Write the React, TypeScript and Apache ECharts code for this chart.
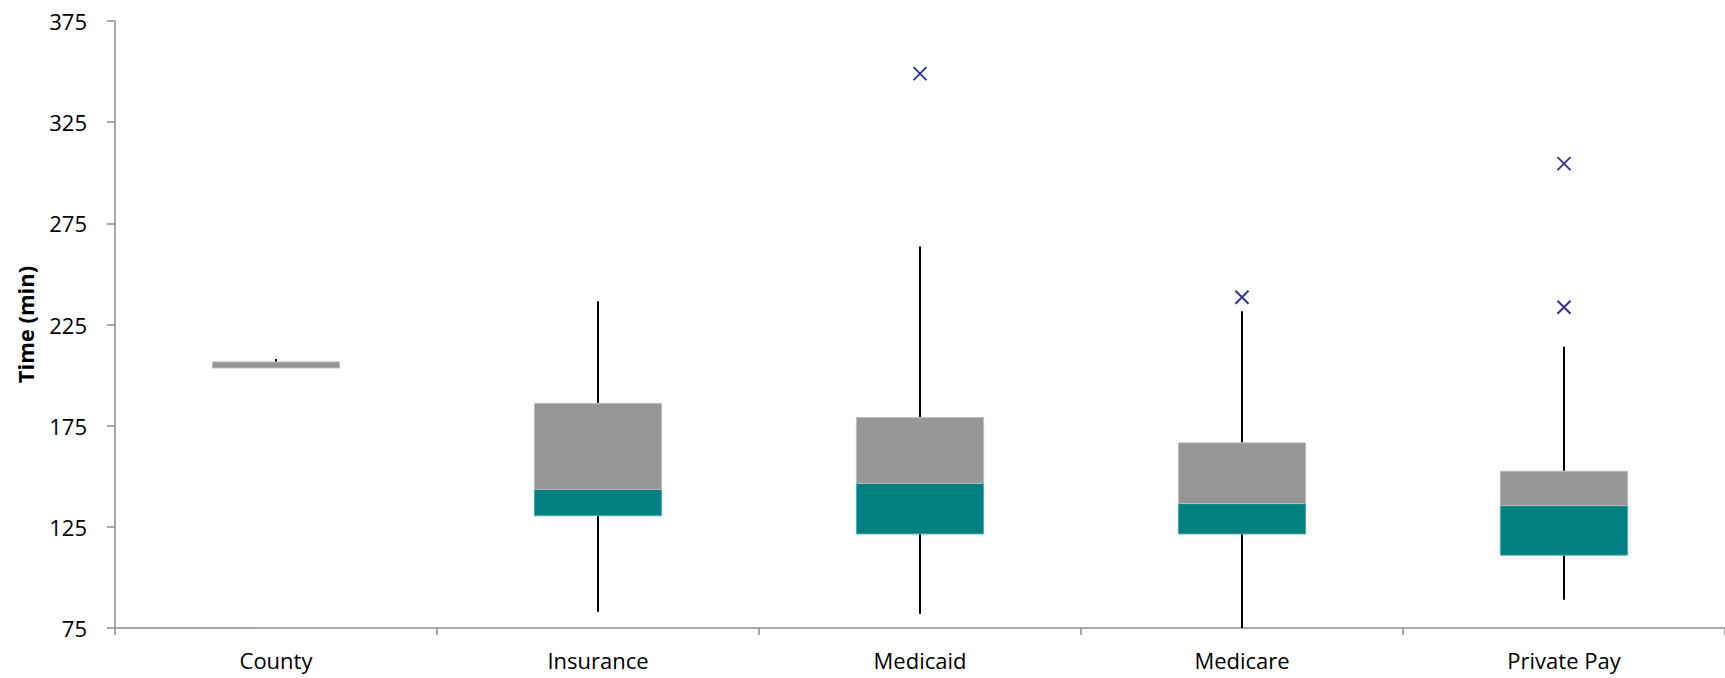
import React, { useEffect, useRef } from "react";
import * as echarts from "echarts";

// Waiting-time distribution per payer (minutes)
const categories = ["County", "Insurance", "Medicaid", "Medicare", "Private Pay"];
const minValues = [203.5, 83, 82, 75, 89];
const q1Values = [203.5, 130.5, 121.5, 121.5, 111];
const medianValues = [203.5, 143.5, 146.5, 136.5, 135.5];
const q3Values = [206.5, 186, 179, 166.5, 152.5];
const maxValues = [208, 236.5, 263.5, 231.5, 214];

const outlierCategories = ["Medicaid", "Medicare", "Private Pay", "Private Pay"];
const outlierValues = [349, 238.5, 304.5, 233.5];

const yTickLabels = [75, 125, 175, 225, 275, 325, 375];

const FONT = "'Open Sans', 'Noto Sans', sans-serif";
const AXIS_COLOR = "#8c8c8c";

export default function App() {
  const ref = useRef<HTMLDivElement>(null);

  useEffect(() => {
    if (!ref.current) return;
    const chart = echarts.init(ref.current, undefined, { renderer: "svg" });

    const boxData = categories.map((_, i) => [
      i,
      minValues[i],
      q1Values[i],
      medianValues[i],
      q3Values[i],
      maxValues[i],
    ]);

    const outlierData = outlierCategories.map((c, i) => [c, outlierValues[i]]);

    chart.setOption({
      animation: false,
      backgroundColor: "#ffffff",
      grid: { left: 115, top: 21, bottom: 50, width: 1613, containLabel: false },
      xAxis: {
        type: "category",
        data: categories,
        boundaryGap: true,
        axisLine: { show: true, lineStyle: { color: AXIS_COLOR, width: 1.5 } },
        axisTick: { show: true, length: 7, lineStyle: { color: AXIS_COLOR, width: 1.5 } },
        axisLabel: { color: "#000", fontFamily: FONT, fontSize: 22, margin: 21 },
        splitLine: { show: false },
      },
      yAxis: {
        type: "value",
        min: 75,
        max: 375,
        name: "Time (min)",
        nameLocation: "middle",
        nameRotate: 90,
        nameGap: 79,
        nameTextStyle: { color: "#000", fontFamily: FONT, fontSize: 22, fontWeight: "bold" },
        axisLine: { show: true, lineStyle: { color: AXIS_COLOR, width: 1.5 } },
        axisTick: {
          show: true,
          length: 8,
          customValues: yTickLabels,
          lineStyle: { color: AXIS_COLOR, width: 1.5 },
        },
        axisLabel: {
          color: "#000",
          fontFamily: FONT,
          fontSize: 22,
          margin: 28,
          customValues: yTickLabels,
        },
        splitLine: { show: false },
      },
      series: [
        {
          type: "custom",
          name: "Box",
          data: boxData,
          encode: { x: 0, y: [1, 2, 3, 4, 5] },
          renderItem: (params: any, api: any) => {
            const idx = api.value(0);
            const pMin = api.coord([idx, api.value(1)]);
            const pQ1 = api.coord([idx, api.value(2)]);
            const pMed = api.coord([idx, api.value(3)]);
            const pQ3 = api.coord([idx, api.value(4)]);
            const pMax = api.coord([idx, api.value(5)]);
            const cx = pMed[0];
            const w = api.size([1, 0])[0] * 0.395;
            const whisker = { stroke: "#000000", lineWidth: 2 };
            const children: any[] = [];
            if (pMin[1] - pQ1[1] > 0.5) {
              children.push({
                type: "line",
                shape: { x1: cx, y1: pQ1[1], x2: cx, y2: pMin[1] },
                style: whisker,
              });
            }
            if (pQ3[1] - pMax[1] > 0.5) {
              children.push({
                type: "line",
                shape: { x1: cx, y1: pMax[1], x2: cx, y2: pQ3[1] },
                style: whisker,
              });
            }
            if (pQ1[1] - pMed[1] > 0.5) {
              children.push({
                type: "rect",
                shape: { x: cx - w / 2, y: pMed[1], width: w, height: pQ1[1] - pMed[1] },
                style: { fill: "#008080", stroke: "#4fa9a9", lineWidth: 1 },
              });
            }
            if (pMed[1] - pQ3[1] > 0.5) {
              children.push({
                type: "rect",
                shape: { x: cx - w / 2, y: pQ3[1], width: w, height: pMed[1] - pQ3[1], r: 1 },
                style: { fill: "#969696", stroke: "#bdbdbd", lineWidth: 1 },
              });
            }
            return { type: "group", children };
          },
          z: 2,
        },
        {
          type: "scatter",
          name: "Outliers",
          data: outlierData,
          symbol: "path://M0,0L10,10M10,0L0,10",
          symbolSize: 13,
          itemStyle: { color: "none", borderColor: "#000080", borderWidth: 2 },
          z: 3,
        },
      ],
    });

    return () => chart.dispose();
  }, []);

  return (
    <div
      ref={ref}
      style={{ position: "absolute", left: 0, top: 0, width: 1725, height: 678, background: "#fff" }}
    />
  );
}
